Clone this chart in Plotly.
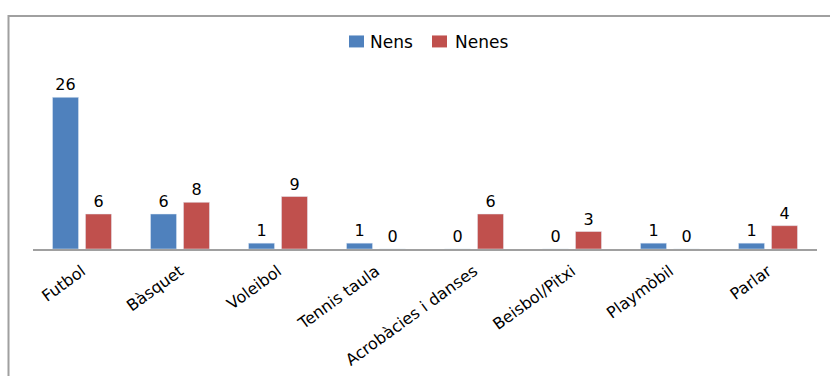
import plotly.graph_objects as go

categories = ["Futbol", "Bàsquet", "Voleibol", "Tennis taula",
              "Acrobàcies i danses", "Beisbol/Pitxi", "Playmòbil", "Parlar"]
series_names = ["Nens", "Nenes"]
nens = [26, 6, 1, 1, 0, 0, 1, 1]
nenes = [6, 8, 9, 0, 6, 3, 0, 4]
colors = ["#4f81bd", "#c0504d"]

W, H = 830, 376
left, right = 33, 817
base_y = 249
y_max = 30
px_per_unit = 5.846
plot_h = y_max * px_per_unit
top = base_y - plot_h

font_family = "DejaVu Sans, Verdana, sans-serif"


def px_x(px):
    return (px - left) / (right - left)


def px_y(py):
    return (base_y - py) / plot_h


fig = go.Figure()
for name, vals, col in zip(series_names, [nens, nenes], colors):
    fig.add_trace(go.Bar(
        name=name, x=categories, y=vals, marker_color=col,
        text=[str(v) for v in vals], textposition="outside",
        textfont=dict(size=16, color="#000000", family=font_family),
        cliponaxis=False, showlegend=False,
    ))

shapes = [dict(
    type="rect", xref="paper", yref="paper",
    x0=px_x(8.5), x1=px_x(845), y0=px_y(395), y1=px_y(15.5),
    line=dict(color="#a0a0a0", width=2), layer="below",
)]

# legend built from coloured squares and labels
annotations = []
legend_items = [(349, 368), (432, 453)]
for (sq_x, txt_x), name, col in zip(legend_items, series_names, colors):
    shapes.append(dict(
        type="rect", xref="paper", yref="paper",
        x0=px_x(sq_x), x1=px_x(sq_x + 15), y0=px_y(47), y1=px_y(35),
        fillcolor=col, line=dict(width=0),
    ))
    annotations.append(dict(
        xref="paper", yref="paper", x=px_x(txt_x), y=px_y(41.5),
        xanchor="left", yanchor="middle", text=name, showarrow=False,
        font=dict(size=17, color="#000000", family=font_family),
    ))

fig.update_layout(
    width=W, height=H,
    margin=dict(l=left, r=W - right, t=top, b=H - base_y, pad=0),
    paper_bgcolor="white", plot_bgcolor="white",
    barmode="group", bargap=0.327, bargroupgap=0.21,
    font=dict(family=font_family, color="#000000"),
    showlegend=False,
    xaxis=dict(
        tickangle=-36, tickfont=dict(size=16, family=font_family, color="#000000"),
        showline=True, linecolor="#a0a0a0", linewidth=1.5,
        ticks="", showgrid=False, automargin=False, ticklabelstandoff=5,
    ),
    yaxis=dict(
        range=[0, y_max], visible=False, showgrid=False, zeroline=False,
    ),
    shapes=shapes,
    annotations=annotations,
)

fig.write_html("out.html")
